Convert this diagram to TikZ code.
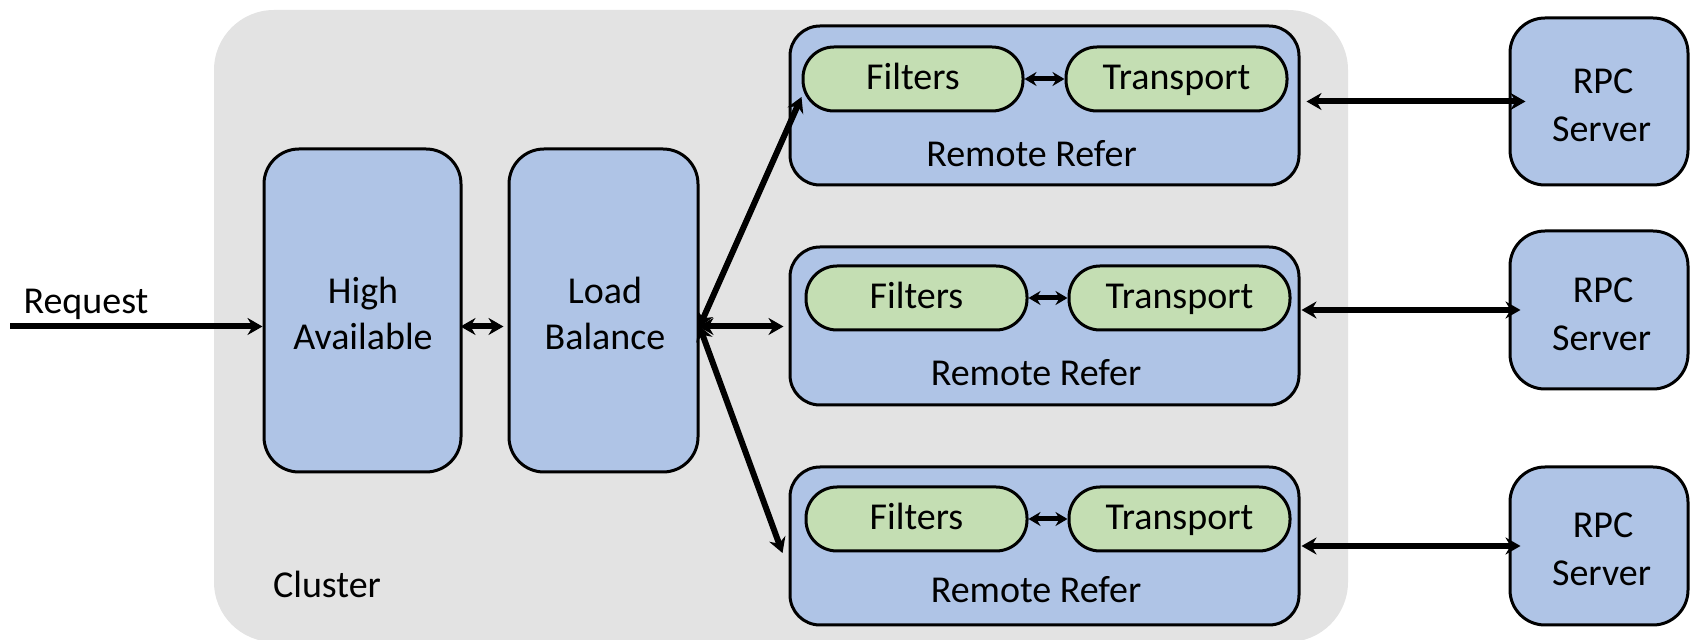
\documentclass[tikz,border=0pt]{standalone}
\usepackage{fontspec}
\setmainfont{Carlito}
\usetikzlibrary{arrows.meta,calc}
\definecolor{clgray}{HTML}{E3E3E3}
\definecolor{boxblue}{HTML}{AFC4E6}
\definecolor{boxgreen}{HTML}{C4DEB3}
\begin{document}
\begin{tikzpicture}[x=1pt,y=1pt,
  >={Stealth[length=15pt,width=17pt,inset=5pt]},
  cluster/.style={fill=clgray, rounded corners=60pt, inner sep=0pt},
  bigbox/.style={draw=black, line width=3pt, fill=boxblue, rounded corners=35pt, inner sep=0pt},
  rrbox/.style={draw=black, line width=3pt, fill=boxblue, rounded corners=30pt, inner sep=0pt, minimum width=509pt},
  rpcbox/.style={draw=black, line width=3pt, fill=boxblue, rounded corners=35pt, inner sep=0pt, minimum width=178pt},
  pill/.style={draw=black, line width=3pt, fill=boxgreen, rounded corners=31pt, inner sep=0pt, minimum height=64pt,
    font=\fontsize{38}{48}\selectfont, text height=22pt, text depth=0pt},
  txt/.style={font=\fontsize{38}{48}\selectfont, inner sep=0pt, anchor=base},
  conn/.style={line width=6pt},
  sconn/.style={line width=5pt, >={Stealth[length=12pt,width=14pt,inset=4pt]}}
]
\useasboundingbox (0,0) rectangle (1690,640);

% cluster background
\node[cluster, minimum width=1134pt, minimum height=632pt] (cluster) at (781,314) {};

% left boxes
\node[bigbox, minimum width=197pt, minimum height=323pt] (ha) at (362.5,329.5) {};
\node[bigbox, minimum width=189pt, minimum height=323pt] (lb) at (603.5,329.5) {};

% remote refer boxes
\node[rrbox, minimum height=159pt] (rr1) at (1044.5,534.5) {};
\node[rrbox, minimum height=158pt] (rr2) at (1044.5,314) {};
\node[rrbox, minimum height=158pt] (rr3) at (1044.5,94) {};

% filters / transport
\node[pill, minimum width=220pt] (f1) at (913,561) {Filters};
\node[pill, minimum width=221pt] (t1) at (1176.5,561) {Transport};
\node[pill, minimum width=221pt] (f2) at (916.5,342) {Filters};
\node[pill, minimum width=221pt] (t2) at (1179.5,342) {Transport};
\node[pill, minimum width=221pt] (f3) at (916.5,121) {Filters};
\node[pill, minimum width=221pt] (t3) at (1179.5,121) {Transport};

% RPC servers
\node[rpcbox, minimum height=167pt] (rpc1) at (1599,538.5) {};
\node[rpcbox, minimum height=158pt] (rpc2) at (1599,330) {};
\node[rpcbox, minimum height=158pt] (rpc3) at (1599,94) {};

% labels
\node[txt] (hal1) at (363,336) {High};
\node[txt] (hal2) at (363,290) {Available};
\node[txt] (lbl1) at (605,336) {Load};
\node[txt] (lbl2) at (605,290) {Balance};
\node[txt] (reql) at (86,326) {Request};
\node[txt] (cll) at (327,42) {Cluster};
\node[txt] (rr1l) at (1031.5,473) {Remote Refer};
\node[txt] (rr2l) at (1036,254.3) {Remote Refer};
\node[txt] (rr3l) at (1036,37) {Remote Refer};
\node[txt] (rpc1a) at (1603,546) {RPC};
\node[txt] (rpc1b) at (1601.5,498) {Server};
\node[txt] (rpc2a) at (1603,337) {RPC};
\node[txt] (rpc2b) at (1601.5,289) {Server};
\node[txt] (rpc3a) at (1603,102) {RPC};
\node[txt] (rpc3b) at (1601.5,54) {Server};

% connectors
\coordinate (reqstart) at (10,313.5);
\draw[conn,->] (reqstart) -- (reqstart -| ha.west);
\draw[conn,<->,shorten <=-2pt,shorten >=4pt] (reqstart -| ha.east) -- (reqstart -| lb.west);
\draw[conn,<->,shorten <=-1pt,shorten >=5pt] (reqstart -| lb.east) -- (reqstart -| rr2.west);
\draw[conn,<->,shorten <=-1pt] (reqstart -| lb.east) -- ($(f1.west)+(0,-18)$);
\draw[conn,<->,shorten <=-1pt] (reqstart -| lb.east) -- ($(rr3.west)+(-6,-7)$);

\draw[sconn,<->] (f1.east) -- (t1.west);
\draw[sconn,<->] (f2.east) -- (t2.west);
\draw[sconn,<->] (f3.east) -- (t3.west);

\draw[conn,<->,shorten <=6pt,shorten >=-17pt] (rpc1.west -| rr1.east) -- (rpc1.west);
\draw[conn,<->,shorten <=1pt,shorten >=-12pt] (rpc2.west -| rr2.east) -- (rpc2.west);
\draw[conn,<->,shorten <=1pt,shorten >=-12pt] (rpc3.west -| rr3.east) -- (rpc3.west);
\end{tikzpicture}
\end{document}
